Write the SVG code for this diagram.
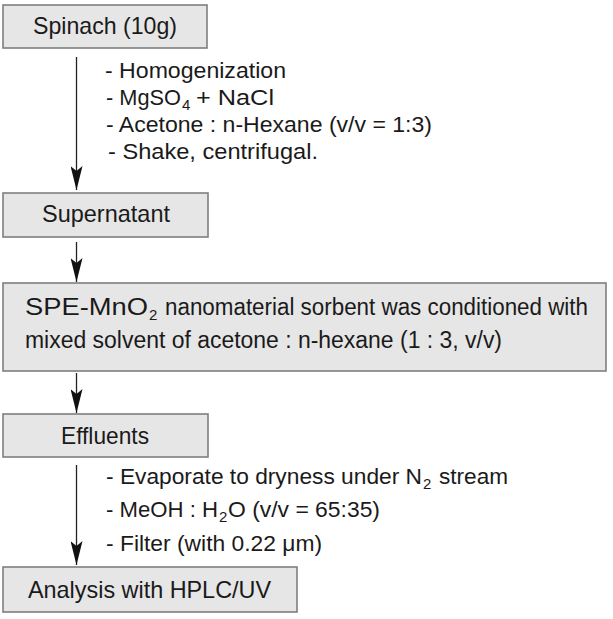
<svg xmlns="http://www.w3.org/2000/svg" width="613" height="619" viewBox="0 0 613 619">
<style>
.box{fill:#e6e6e6;stroke:#7f7f7f;stroke-width:1.6}
.t{font-family:"Liberation Sans",Arial,sans-serif;fill:#1a1a1a}
.bt{font-size:24px}
.bt2{font-size:23px}
.at{font-size:22px}
.sub{font-size:15px}
.conn{stroke:#222;stroke-width:1.3;fill:none}
</style>
<defs>
<marker id="ah" markerUnits="userSpaceOnUse" viewBox="0 0 24 12" refX="24" refY="6" markerWidth="24" markerHeight="12" orient="auto">
<path d="M0,0 L24,6 L0,12 L5,6 Z" fill="#111"/>
</marker>
</defs>
<rect width="613" height="619" fill="#fff"/>
<g id="connectors">
<line class="conn" x1="76.5" y1="57" x2="76.5" y2="190" marker-end="url(#ah)"/>
<line class="conn" x1="76.5" y1="242" x2="76.5" y2="282" marker-end="url(#ah)"/>
<line class="conn" x1="76.5" y1="373" x2="76.5" y2="413" marker-end="url(#ah)"/>
<line class="conn" x1="76.5" y1="465" x2="76.5" y2="565" marker-end="url(#ah)"/>
</g>
<g id="spinach">
<rect class="box" x="3" y="5" width="204" height="43"/>
<text class="t bt" x="33" y="34" textLength="144" lengthAdjust="spacingAndGlyphs">Spinach (10g)</text>
</g>
<g id="notes1">
<text class="t at" x="105" y="78" textLength="181" lengthAdjust="spacingAndGlyphs">- Homogenization</text>
<text class="t at" x="106" y="105" textLength="75" lengthAdjust="spacingAndGlyphs">- MgSO</text>
<text class="t sub" x="182" y="110">4</text>
<text class="t at" x="196" y="105" textLength="78" lengthAdjust="spacingAndGlyphs">+ NaCl</text>
<text class="t at" x="106" y="132" textLength="326" lengthAdjust="spacingAndGlyphs">- Acetone : n-Hexane (v/v = 1:3)</text>
<text class="t at" x="108" y="159" textLength="210" lengthAdjust="spacingAndGlyphs">-  Shake, centrifugal.</text>
</g>
<g id="supernatant">
<rect class="box" x="3" y="193" width="205" height="44"/>
<text class="t bt" x="42" y="222" textLength="128" lengthAdjust="spacingAndGlyphs">Supernatant</text>
</g>
<g id="spe">
<rect class="box" x="3" y="283" width="603" height="88"/>
<text class="t bt" x="25" y="315" textLength="123" lengthAdjust="spacingAndGlyphs">SPE-MnO</text>
<text class="t sub" x="149" y="320">2</text>
<text class="t bt2" x="165" y="315" textLength="423" lengthAdjust="spacingAndGlyphs">nanomaterial sorbent was conditioned with</text>
<text class="t bt2" x="25" y="348" textLength="477" lengthAdjust="spacingAndGlyphs">mixed solvent of acetone : n-hexane (1 : 3, v/v)</text>
</g>
<g id="effluents">
<rect class="box" x="3" y="414" width="205" height="43"/>
<text class="t bt" x="61" y="444" textLength="88" lengthAdjust="spacingAndGlyphs">Effluents</text>
</g>
<g id="notes2">
<text class="t at" x="106" y="484" textLength="316" lengthAdjust="spacingAndGlyphs">- Evaporate to dryness under N</text>
<text class="t sub" x="423" y="489">2</text>
<text class="t at" x="439" y="484" textLength="69" lengthAdjust="spacingAndGlyphs">stream</text>
<text class="t at" x="106" y="517" textLength="112" lengthAdjust="spacingAndGlyphs">- MeOH : H</text>
<text class="t sub" x="219" y="522">2</text>
<text class="t at" x="228" y="517" textLength="152" lengthAdjust="spacingAndGlyphs">O (v/v = 65:35)</text>
<text class="t at" x="106" y="551" textLength="216" lengthAdjust="spacingAndGlyphs">- Filter (with 0.22 μm)</text>
</g>
<g id="analysis">
<rect class="box" x="3" y="567" width="294" height="45"/>
<text class="t bt" x="28" y="598" textLength="243" lengthAdjust="spacingAndGlyphs">Analysis with HPLC/UV</text>
</g>
</svg>
